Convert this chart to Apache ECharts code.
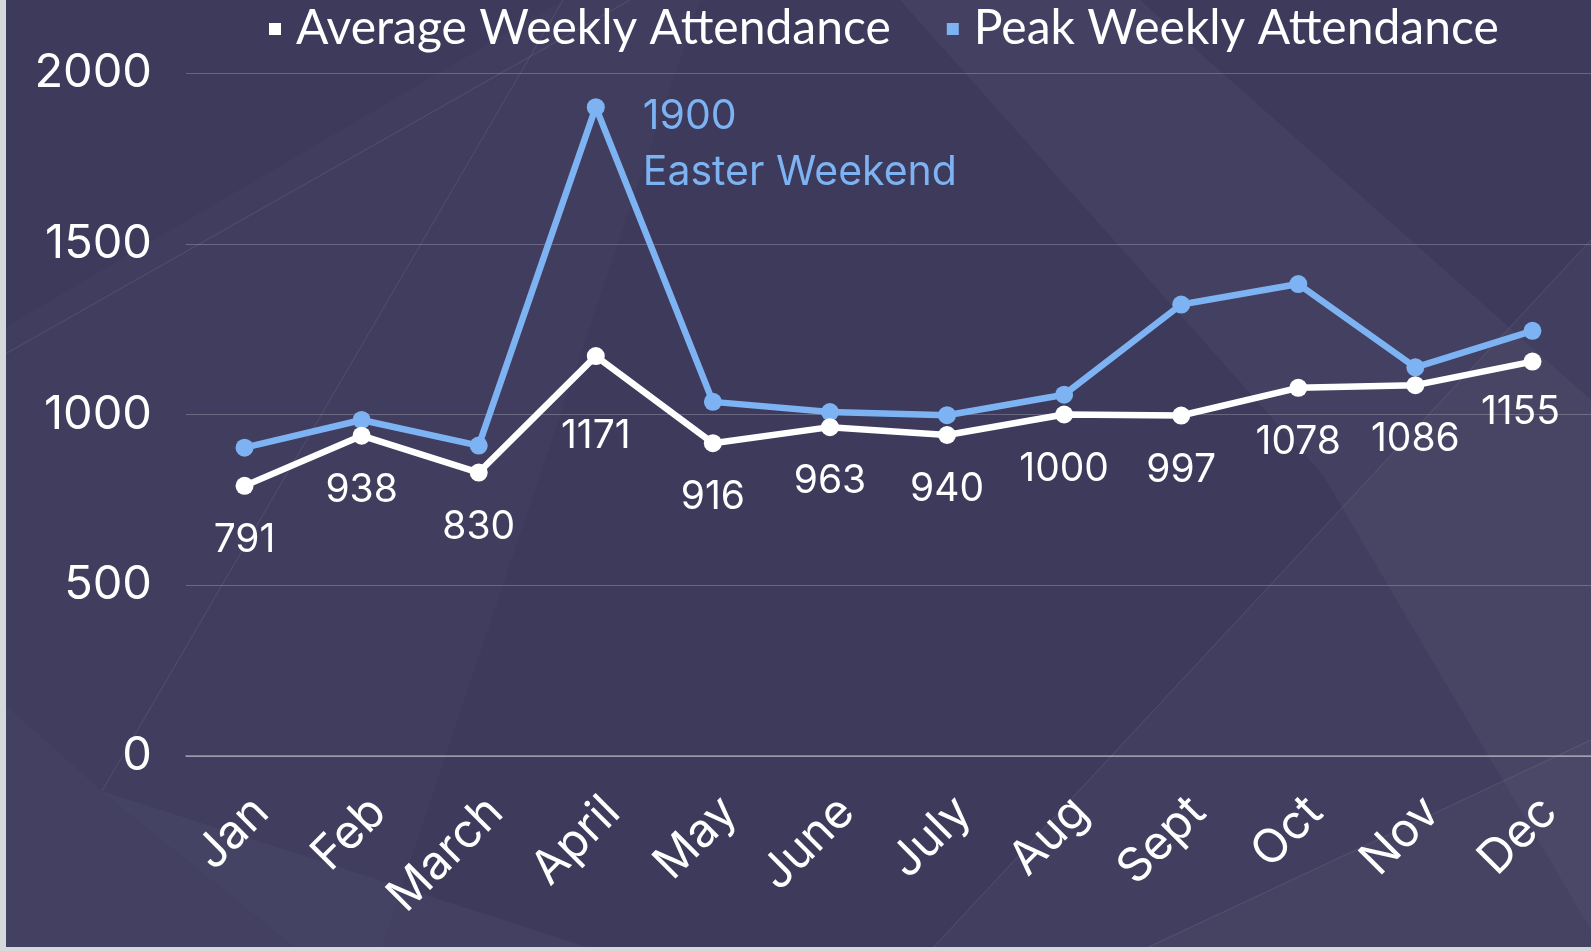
<!DOCTYPE html>
<html>
<head>
<meta charset="utf-8">
<script src="https://cdn.jsdelivr.net/npm/echarts@6/dist/echarts.min.js"></script>
<style>
html,body{margin:0;padding:0;background:#3d3a5c;overflow:hidden}
#c{width:1591px;height:951px}
</style>
</head>
<body>
<div id="c"></div>
<script>
const months = ['Jan','Feb','March','April','May','June','July','Aug','Sept','Oct','Nov','Dec'];
const averageWeekly = [791,938,830,1171,916,963,940,1000,997,1078,1086,1155];
const peakWeekly = [903,984,909,1900,1037,1007,998,1058,1322,1382,1138,1245];
const yTicks = [0,500,1000,1500,2000];
const seriesNames = ['Average Weekly Attendance','Peak Weekly Attendance'];
const peakNote = 'Easter Weekend';

const WHITE = '#ffffff';
const BLUE = '#7db3f2';
const LABEL_FONT = 'Inter, "Open Sans", sans-serif';

const chart = echarts.init(document.getElementById('c'), null, {renderer:'canvas'});

const peakIdx = peakWeekly.indexOf(Math.max(...peakWeekly));
const lastIdx = averageWeekly.length - 1;

const avgData = averageWeekly.map((v,i)=> {
  if (i===peakIdx) return {value:v,label:{distance:52}};
  if (i===lastIdx) return {value:v,label:{offset:[-12,-4]}};
  return v;
});
const peakData = peakWeekly.map((v,i)=> i===peakIdx ? {
  value:v,
  label:{
    show:true, position:'right', distance:38, offset:[0,38],
    formatter: p => '{a|' + p.value + '}\n{a|' + peakNote + '}',
    rich:{a:{color:BLUE,fontSize:41,fontFamily:LABEL_FONT,lineHeight:56}}
  }
} : v);

const bgShapes = [
  {pts:[[900,0],[1140,0],[1591,400],[1591,930],[1323,475]], a:0.03},
  {pts:[[1591,240],[930,951],[1591,951]], a:0.025},
  {pts:[[1591,740],[1140,951],[1591,951]], a:0.025},
  {pts:[[0,700],[102,791],[600,951],[0,951]], a:0.03},
  {pts:[[563,0],[102,791],[0,700],[0,330]], a:0.015},
  {pts:[[563,0],[700,0],[380,951],[300,951],[102,791]], a:0.015},
];
const bgLines = [
  [[0,357],[630,0]],
  [[1591,240],[930,951]],
  [[1591,740],[1140,951]],
  [[102,791],[563,0]],
];

const graphic = [];
bgShapes.forEach(s=>graphic.push({type:'polygon',silent:true,z:-10,shape:{points:s.pts},style:{fill:'rgba(255,255,255,'+s.a+')'}}));
bgLines.forEach(l=>graphic.push({type:'polyline',silent:true,z:-10,shape:{points:l},style:{stroke:'rgba(255,255,255,0.1)',lineWidth:1,fill:null}}));
graphic.push({type:'rect',silent:true,z:-5,shape:{x:0,y:0,width:6,height:951},style:{fill:'#d6d9dc'}});
graphic.push({type:'rect',silent:true,z:-5,shape:{x:0,y:947,width:1591,height:4},style:{fill:'#d6d9dc'}});

chart.setOption({
  backgroundColor:'#3d3a5c',
  animation:false,
  graphic: graphic,
  legend:{
    top:0, left:264,
    icon:'rect', itemWidth:12, itemHeight:12, itemGap:56,
    textStyle:{color:WHITE,fontSize:48,fontFamily:'Lato, sans-serif',padding:[0,0,0,10]},
    data:seriesNames
  },
  grid:{left:186,right:0,top:73,bottom:195,containLabel:false},
  xAxis:{
    type:'category', data:months, boundaryGap:true,
    axisLine:{show:true,lineStyle:{color:'rgba(255,255,255,0.45)',width:1.5}},
    axisTick:{show:false},
    axisLabel:{rotate:45,margin:32,verticalAlign:'top',color:WHITE,fontSize:47,fontFamily:LABEL_FONT,interval:0}
  },
  yAxis:{
    type:'value', min:yTicks[0], max:yTicks[yTicks.length-1], interval:yTicks[1]-yTicks[0],
    axisLine:{show:false}, axisTick:{show:false},
    splitLine:{lineStyle:{color:'rgba(255,255,255,0.22)',width:1}},
    axisLabel:{color:WHITE,fontSize:47,fontFamily:LABEL_FONT,margin:34,formatter:v=>String(v)}
  },
  series:[
    {
      name:seriesNames[1], type:'line', data:peakData, z:3,
      color:BLUE, lineStyle:{width:6.5,color:BLUE},
      symbol:'circle', symbolSize:18, itemStyle:{color:BLUE},
      label:{show:false}
    },
    {
      name:seriesNames[0], type:'line', data:avgData, z:4,
      color:WHITE, lineStyle:{width:6.5,color:WHITE},
      symbol:'circle', symbolSize:18, itemStyle:{color:WHITE},
      label:{show:true,position:'bottom',distance:26,color:WHITE,fontSize:39,fontFamily:LABEL_FONT}
    }
  ]
});
</script>
</body>
</html>
